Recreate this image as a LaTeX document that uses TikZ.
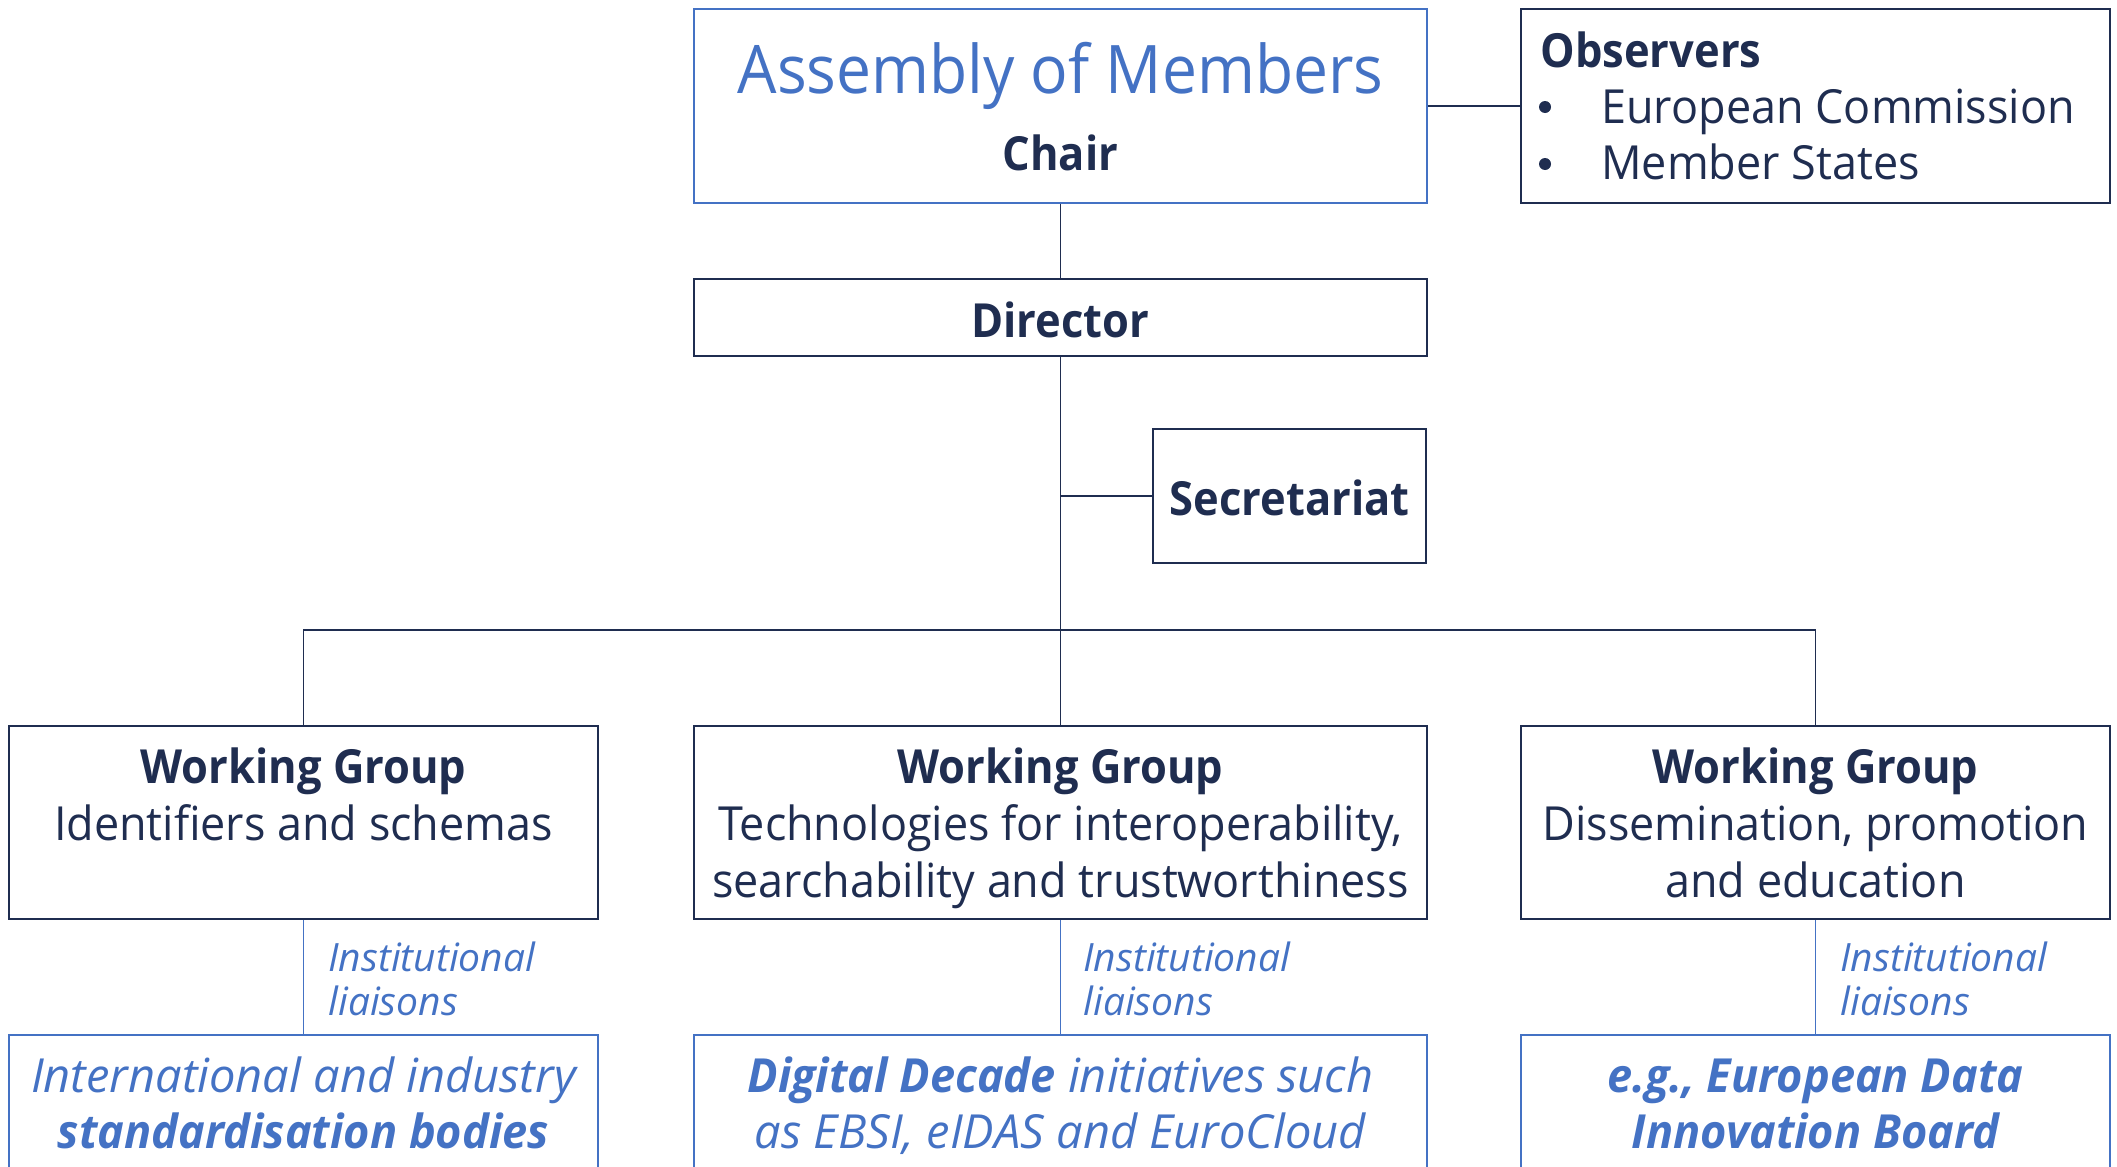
\documentclass[tikz,border=0pt]{standalone}
\usepackage{fontspec}
\setmainfont{Open Sans}[UprightFeatures={FakeStretch=0.956},BoldFeatures={FakeStretch=0.925},ItalicFeatures={FakeStretch=1.0},BoldItalicFeatures={FakeStretch=0.96}]
\newfontfamily\titlefont{Open Sans}[FakeStretch=0.93]
\definecolor{myblue}{HTML}{4472C4}
\definecolor{navy}{HTML}{1F2D50}
\begin{document}
\begin{tikzpicture}[x=0.5pt,y=-0.5pt,
  box/.style={draw=navy,line width=1pt,rectangle,inner sep=0pt},
  bbox/.style={draw=myblue,line width=1pt,rectangle,inner sep=0pt},
  conn/.style={draw=navy,line width=0.8pt},
  bconn/.style={draw=myblue,line width=0.8pt},
  bulletdot/.style={fill=navy},
  txt/.style={inner sep=0pt,anchor=base,text=navy,font=\fontsize{23.5}{28.5}\selectfont},
  btxt/.style={txt,font=\fontsize{23.5}{28.5}\selectfont\bfseries},
  ttxt/.style={txt,text=myblue,font=\titlefont\fontsize{33.5}{40}\selectfont},
  itxt/.style={txt,text=myblue,font=\fontsize{23.5}{28.5}\selectfont\itshape},
  ltxt/.style={txt,anchor=base west,text=myblue,font=\fontsize{19.5}{23}\selectfont\itshape}
]
\useasboundingbox (0,0) rectangle (2117,1167);
\clip (0,0) rectangle (2117,1167);
% boxes
\node[bbox,minimum width=366.5pt,minimum height=97pt] (asm) at (1060.5,106) {};
\node[box,minimum width=294.5pt,minimum height=97pt] (obs) at (1815.5,106) {};
\node[box,minimum width=366.5pt,minimum height=38.5pt] (dir) at (1060.5,317.5) {};
\node[box,minimum width=136.5pt,minimum height=67pt] (sec) at (1289.5,496) {};
\node[box,minimum width=294.5pt,minimum height=96.5pt] (wg1) at (303.5,822.5) {};
\node[box,minimum width=366.5pt,minimum height=96.5pt] (wg2) at (1060.5,822.5) {};
\node[box,minimum width=294.5pt,minimum height=96.5pt] (wg3) at (1815.5,822.5) {};
\node[bbox,minimum width=294.5pt,minimum height=100pt] (bb1) at (303.5,1135) {};
\node[bbox,minimum width=366.5pt,minimum height=100pt] (bb2) at (1060.5,1135) {};
\node[bbox,minimum width=294.5pt,minimum height=100pt] (bb3) at (1815.5,1135) {};
% texts
\node[ttxt] (asmT) at (1060.5,93) {Assembly of Members};
\node[btxt] (asmC) at (1060.5,170) {Chair};
\node[btxt,anchor=base west] (obsT) at (1540,67) {Observers};
\fill[bulletdot] (1545,107) circle[radius=3pt];
\node[txt,anchor=base west] (obsI1) at (1601,123) {European Commission};
\fill[bulletdot] (1545,164) circle[radius=3pt];
\node[txt,anchor=base west] (obsI2) at (1601,179) {Member States};
\node[btxt] (dirT) at (1060.5,337) {Director};
\node[btxt] (secT) at (1289.5,515) {Secretariat};
\node[btxt] (wg1T) at (303.5,783) {Working Group};
\node[txt] (wg1A) at (303.5,840) {Identifiers and schemas};
\node[btxt] (wg2T) at (1060.5,783) {Working Group};
\node[txt] (wg2A) at (1060.5,840) {Technologies for interoperability,};
\node[txt] (wg2B) at (1060.5,897) {searchability and trustworthiness};
\node[btxt] (wg3T) at (1815.5,783) {Working Group};
\node[txt] (wg3A) at (1815.5,840) {Dissemination, promotion};
\node[txt] (wg3B) at (1815.5,897) {and education};
\node[ltxt] (l1a) at (328,971) {Institutional};
\node[ltxt] (l1b) at (328,1015) {liaisons};
\node[ltxt] (l2a) at (1083,971) {Institutional};
\node[ltxt] (l2b) at (1083,1015) {liaisons};
\node[ltxt] (l3a) at (1840,971) {Institutional};
\node[ltxt] (l3b) at (1840,1015) {liaisons};
\node[itxt] (bb1A) at (303.5,1092) {International and industry};
\node[itxt] (bb1B) at (303.5,1148) {\bfseries standardisation bodies};
\node[itxt] (bb2A) at (1060.5,1092) {{\bfseries Digital Decade} initiatives such};
\node[itxt] (bb2B) at (1060.5,1148) {as EBSI, eIDAS and EuroCloud};
\node[itxt] (bb3A) at (1815.5,1092) {\bfseries e.g., European Data};
\node[itxt] (bb3B) at (1815.5,1148) {\bfseries Innovation Board};
% connectors
\draw[conn] (asm.south) -- (dir.north);
\draw[conn] (asm.east) -- (obs.west);
\draw[conn] (dir.south) -- (wg2.north);
\coordinate (secj) at (dir.south |- sec.west);
\draw[conn] (sec.west) -- (secj);
\coordinate (bus) at (1060.5,630);
\draw[conn] (wg1.north) -- (wg1.north |- bus) -- (wg3.north |- bus) -- (wg3.north);
\draw[bconn] (wg1.south) -- (bb1.north);
\draw[bconn] (wg2.south) -- (bb2.north);
\draw[bconn] (wg3.south) -- (bb3.north);
\end{tikzpicture}
\end{document}
